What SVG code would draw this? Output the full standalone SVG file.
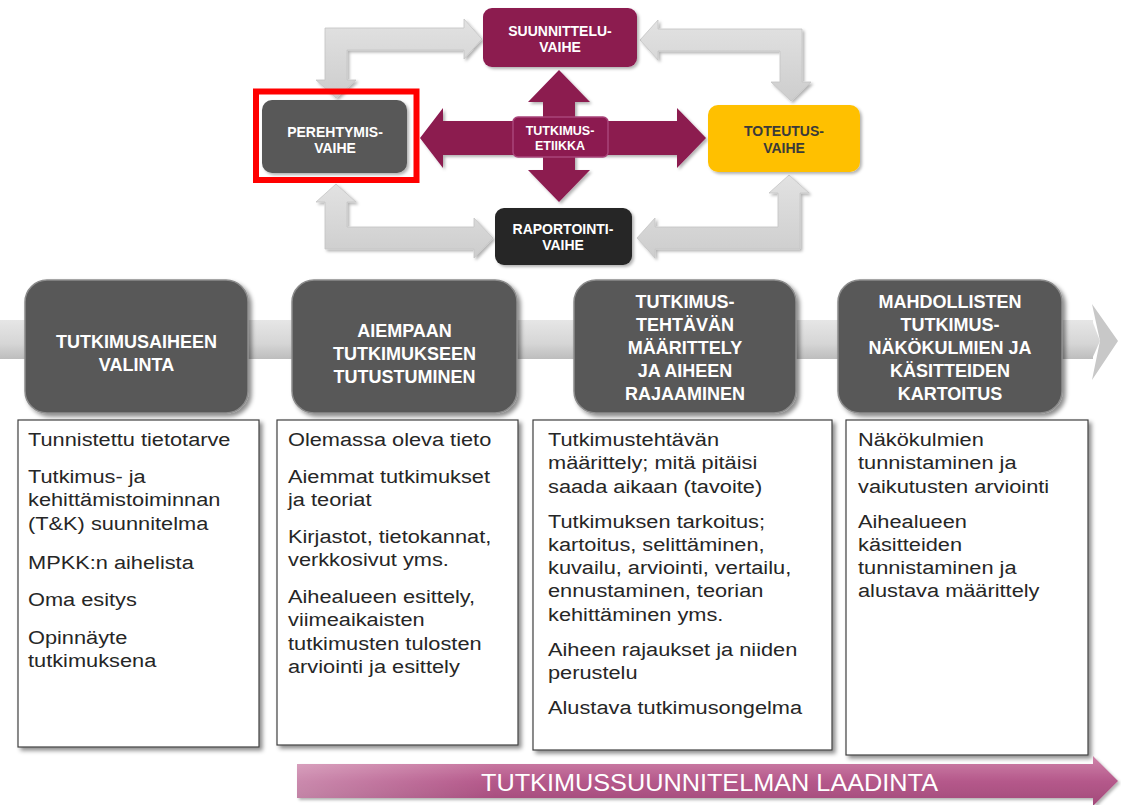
<svg xmlns="http://www.w3.org/2000/svg" width="1121" height="805" viewBox="0 0 1121 805">
<defs>
<filter id="sh" x="-10%" y="-10%" width="130%" height="130%">
<feDropShadow dx="3" dy="3" stdDeviation="2" flood-color="#000" flood-opacity="0.45"/>
</filter>
<filter id="sh2" x="-10%" y="-10%" width="130%" height="130%">
<feDropShadow dx="2" dy="2" stdDeviation="1.5" flood-color="#000" flood-opacity="0.3"/>
</filter>
<linearGradient id="band" x1="0" y1="0" x2="0" y2="1">
<stop offset="0" stop-color="#E6E6E6"/>
<stop offset="0.6" stop-color="#D6D6D6"/>
<stop offset="1" stop-color="#BDBDBD"/>
</linearGradient>
<linearGradient id="pink" x1="0" y1="0" x2="0" y2="1">
<stop offset="0" stop-color="#CF84AA"/>
<stop offset="0.5" stop-color="#B5598B"/>
<stop offset="1" stop-color="#A24A7A"/>
</linearGradient>
<linearGradient id="pinkfade" x1="0" y1="0" x2="1" y2="0">
<stop offset="0" stop-color="#fff" stop-opacity="0.3"/>
<stop offset="0.25" stop-color="#fff" stop-opacity="0"/>
</linearGradient>
<linearGradient id="grayarr" x1="0" y1="0" x2="0" y2="1">
<stop offset="0" stop-color="#E2E2E2"/>
<stop offset="1" stop-color="#CDCDCD"/>
</linearGradient>
</defs>
<style>
.top{font-family:"Liberation Sans",Arial,sans-serif;font-weight:bold;font-size:14px;fill:#fff;text-anchor:middle}
.hd{font-family:"Liberation Sans",Arial,sans-serif;font-weight:bold;font-size:18px;fill:#fff;text-anchor:middle}
.bd{font-family:"Liberation Sans",Arial,sans-serif;font-size:18px;fill:#262626}
.hbox{fill:#595959;stroke:#8C8C8C;stroke-width:1.5}
.tbox{fill:#fff;stroke:#404040;stroke-width:1.2}
.garr{fill:url(#grayarr);stroke:#C4C4C4;stroke-width:0.8}
.maroon{fill:#8C1A50}
</style>
<rect width="1121" height="805" fill="#fff"/>

<g id="connectors">
<polygon class="garr" filter="url(#sh2)" points="336,98 356,80 347,80 347,50 464,50 464,59 482,39 464,19 464,28 325,28 325,80 316,80"/>
<polygon class="garr" filter="url(#sh2)" points="640,40 658,20 658,29 802,29 802,82 811,82 791,101 771,82 780,82 780,51 658,51 658,60"/>
<polygon class="garr" filter="url(#sh2)" points="336,184 356,202 347,202 347,227 474,227 474,218 493,238 474,258 474,249 325,249 325,202 316,202"/>
<polygon class="garr" filter="url(#sh2)" points="637,238 655,218 655,227 778,227 778,193 769,193 789,175 809,193 800,193 800,249 655,249 655,258"/>
<polygon class="maroon" filter="url(#sh2)" points="420,138 443,108 443,121 543,121 543,102 528,102 559,70 590,102 575,102 575,121 677,121 677,108 706,138 677,168 677,155 575,155 575,170 590,170 559,202 528,170 543,170 543,155 443,155 443,168"/>
</g>

<g id="suunnittelu">
<rect x="483" y="8" width="154" height="59" rx="9" class="maroon" filter="url(#sh2)"/>
<text class="top" x="560" y="36">SUUNNITTELU-</text>
<text class="top" x="560" y="52">VAIHE</text>
</g>
<g id="perehtymis">
<rect x="262" y="100" width="145" height="73" rx="10" fill="#595959" filter="url(#sh2)"/>
<text class="top" x="335" y="137">PEREHTYMIS-</text>
<text class="top" x="335" y="153">VAIHE</text>
<rect x="256" y="91.5" width="160.5" height="88.5" fill="none" stroke="#FF0000" stroke-width="6"/>
</g>
<g id="etiikka">
<rect x="513" y="117" width="95" height="40" rx="5" fill="#8C1A50" stroke="#A8447A" stroke-width="1.5"/>
<text class="top" x="560" y="135" style="font-size:12.5px">TUTKIMUS-</text>
<text class="top" x="560" y="150" style="font-size:12.5px">ETIIKKA</text>
</g>
<g id="toteutus">
<rect x="708" y="105" width="152" height="67" rx="10" fill="#FFC000" filter="url(#sh2)"/>
<text class="top" x="784" y="136" style="fill:#3A3A3A">TOTEUTUS-</text>
<text class="top" x="784" y="153" style="fill:#3A3A3A">VAIHE</text>
</g>
<g id="raportointi">
<rect x="495" y="208" width="137" height="57" rx="9" fill="#262626" filter="url(#sh2)"/>
<text class="top" x="563" y="234">RAPORTOINTI-</text>
<text class="top" x="563" y="250">VAIHE</text>
</g>

<g id="timeline">
<rect x="0" y="320" width="1093" height="39" fill="url(#band)"/>
<polygon points="1092,304 1118,341 1092,380 1100,341" fill="#C8C8C8"/>
<polygon points="1092,320 1100,341 1092,359" fill="url(#band)"/>
</g>

<g id="h1">
<rect x="25" y="280" width="223" height="133" rx="22" class="hbox" filter="url(#sh)"/>
<text class="hd" x="136.5" y="348">TUTKIMUSAIHEEN</text>
<text class="hd" x="136.5" y="371">VALINTA</text>
</g>
<g id="h2">
<rect x="292" y="280" width="225" height="133" rx="22" class="hbox" filter="url(#sh)"/>
<text class="hd" x="404.5" y="337">AIEMPAAN</text>
<text class="hd" x="404.5" y="360">TUTKIMUKSEEN</text>
<text class="hd" x="404.5" y="383">TUTUSTUMINEN</text>
</g>
<g id="h3">
<rect x="574" y="280" width="222" height="133" rx="22" class="hbox" filter="url(#sh)"/>
<text class="hd" x="685" y="308">TUTKIMUS-</text>
<text class="hd" x="685" y="331">TEHTÄVÄN</text>
<text class="hd" x="685" y="354">MÄÄRITTELY</text>
<text class="hd" x="685" y="377">JA AIHEEN</text>
<text class="hd" x="685" y="400">RAJAAMINEN</text>
</g>
<g id="h4">
<rect x="838" y="280" width="224" height="133" rx="22" class="hbox" filter="url(#sh)"/>
<text class="hd" x="950" y="308">MAHDOLLISTEN</text>
<text class="hd" x="950" y="331">TUTKIMUS-</text>
<text class="hd" x="950" y="354">NÄKÖKULMIEN JA</text>
<text class="hd" x="950" y="377">KÄSITTEIDEN</text>
<text class="hd" x="950" y="400">KARTOITUS</text>
</g>

<g id="t1">
<rect x="18" y="420" width="241" height="327" class="tbox" filter="url(#sh)"/>
<g transform="translate(28,0) scale(1.21,1)">
<text class="bd" x="0" y="446">Tunnistettu tietotarve</text>
<text class="bd" x="0" y="483">Tutkimus- ja</text>
<text class="bd" x="0" y="506.5">kehittämistoiminnan</text>
<text class="bd" x="0" y="530">(T&amp;K) suunnitelma</text>
<text class="bd" x="0" y="569">MPKK:n  aihelista</text>
<text class="bd" x="0" y="606">Oma esitys</text>
<text class="bd" x="0" y="644">Opinnäyte</text>
<text class="bd" x="0" y="667.5">tutkimuksena</text>
</g>
</g>
<g id="t2">
<rect x="277" y="420" width="241" height="325" class="tbox" filter="url(#sh)"/>
<g transform="translate(288,0) scale(1.21,1)">
<text class="bd" x="0" y="446">Olemassa oleva tieto</text>
<text class="bd" x="0" y="483">Aiemmat tutkimukset</text>
<text class="bd" x="0" y="506.5">ja teoriat</text>
<text class="bd" x="0" y="543">Kirjastot, tietokannat,</text>
<text class="bd" x="0" y="566.5">verkkosivut yms.</text>
<text class="bd" x="0" y="603">Aihealueen esittely,</text>
<text class="bd" x="0" y="626.5">viimeaikaisten</text>
<text class="bd" x="0" y="650">tutkimusten tulosten</text>
<text class="bd" x="0" y="673.5">arviointi ja esittely</text>
</g>
</g>
<g id="t3">
<rect x="533" y="420" width="299" height="330" class="tbox" filter="url(#sh)"/>
<g transform="translate(548,0) scale(1.21,1)">
<text class="bd" x="0" y="446">Tutkimustehtävän</text>
<text class="bd" x="0" y="469.3">määrittely; mitä pitäisi</text>
<text class="bd" x="0" y="492.6">saada aikaan (tavoite)</text>
<text class="bd" x="0" y="527.6">Tutkimuksen tarkoitus;</text>
<text class="bd" x="0" y="550.9">kartoitus, selittäminen,</text>
<text class="bd" x="0" y="574.2">kuvailu, arviointi, vertailu,</text>
<text class="bd" x="0" y="597.5">ennustaminen, teorian</text>
<text class="bd" x="0" y="620.8">kehittäminen yms.</text>
<text class="bd" x="0" y="655.8">Aiheen rajaukset ja niiden</text>
<text class="bd" x="0" y="679.1">perustelu</text>
<text class="bd" x="0" y="714.1">Alustava tutkimusongelma</text>
</g>
</g>
<g id="t4">
<rect x="846" y="420" width="242" height="335" class="tbox" filter="url(#sh)"/>
<g transform="translate(858,0) scale(1.21,1)">
<text class="bd" x="0" y="446">Näkökulmien</text>
<text class="bd" x="0" y="469.3">tunnistaminen ja</text>
<text class="bd" x="0" y="492.6">vaikutusten arviointi</text>
<text class="bd" x="0" y="527.6">Aihealueen</text>
<text class="bd" x="0" y="550.9">käsitteiden</text>
<text class="bd" x="0" y="574.2">tunnistaminen ja</text>
<text class="bd" x="0" y="597.5">alustava määrittely</text>
</g>
</g>

<g id="laadinta">
<polygon points="297,764 1093,764 1093,756 1118,781 1093,806 1093,798 297,798" fill="url(#pink)" filter="url(#sh2)"/>
<rect x="297" y="764" width="796" height="34" fill="url(#pinkfade)"/>
<text x="481" y="791" textLength="457" lengthAdjust="spacingAndGlyphs" style="font-family:'Liberation Sans',Arial,sans-serif;font-size:24px;fill:#fff">TUTKIMUSSUUNNITELMAN LAADINTA</text>
</g>
</svg>
